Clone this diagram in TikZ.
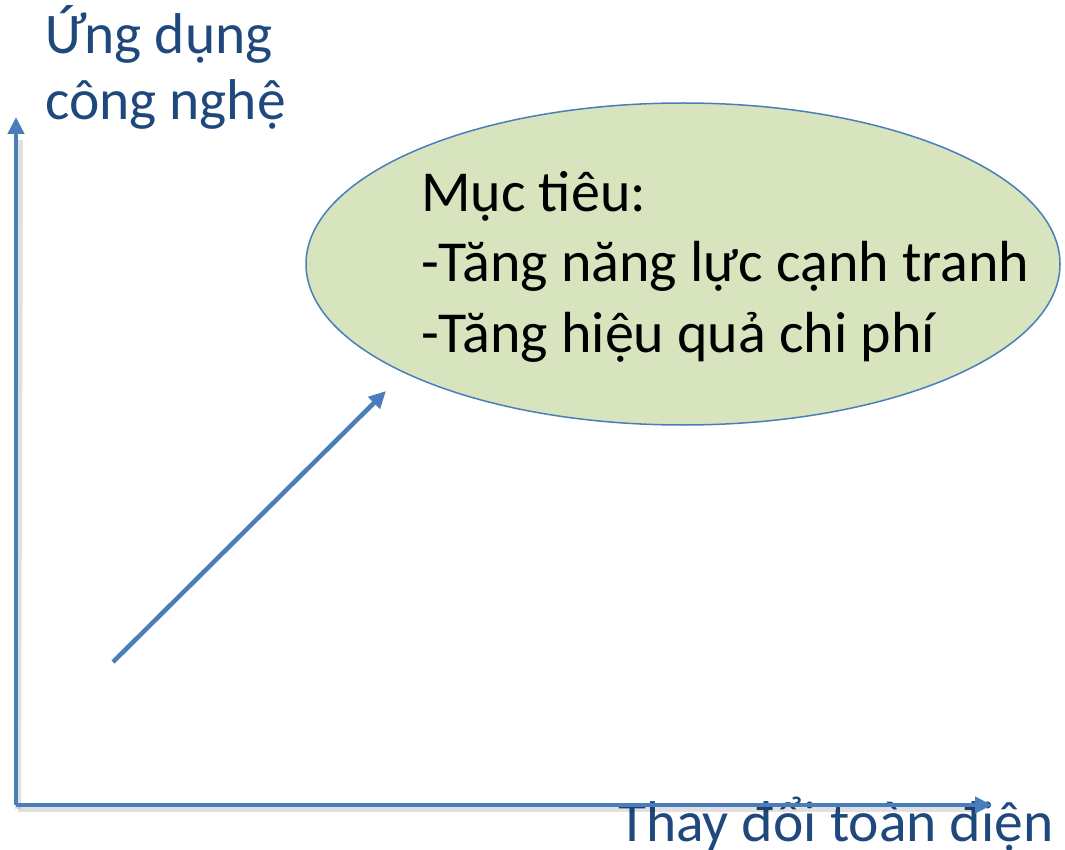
\documentclass[tikz,border=0pt]{standalone}
\usepackage{fontspec}
\setmainfont{Carlito}
\usetikzlibrary{arrows.meta,shapes.geometric}
\definecolor{axisblue}{HTML}{4A7EBB}
\definecolor{labelblue}{HTML}{1F497D}
\definecolor{goalfill}{HTML}{D7E4BD}
\tikzset{
  axisline/.style={draw=axisblue, line width=4.5pt, -{Triangle[length=17pt,width=16pt]}},
  shadowline/.style={draw=black, opacity=0.12, line width=6pt},
  axislabel/.style={inner sep=0pt, anchor=base west, text=labelblue, font=\fontsize{57.5}{68}\selectfont},
  goaltext/.style={inner sep=0pt, anchor=base west, text=black, font=\fontsize{58}{70}\selectfont},
}
\begin{document}
\begin{tikzpicture}[x=1pt,y=-1pt]
\useasboundingbox (0,0) rectangle (1065,850);
\coordinate (origin) at (16,805);
\coordinate (ytop) at (16,117);
\coordinate (xend) at (992,805);
\coordinate (dstart) at (113,662);
\coordinate (dend) at (386,391);
\coordinate (origin s) at (18,809);
\coordinate (xend s) at (978,809);
\coordinate (ytop s) at (20,140);
\node[ellipse, draw=axisblue, line width=1.5pt, fill=goalfill, minimum width=754pt, minimum height=322pt, inner sep=0pt] (goal) at (683,264) {};
\node[goaltext] (g1) at (421,212) {Mục tiêu:};
\node[goaltext] (g2) at (421,282) {-Tăng năng lực cạnh tranh};
\node[goaltext] (g3) at (421,352) {-Tăng hiệu quả chi phí};
\node[axislabel] (ylab1) at (45,54) {Ứng dụng};
\node[axislabel] (ylab2) at (45,120) {công nghệ};
\node[axislabel] (xlab) at (618,841) {Thay đổi toàn điện};
\draw[shadowline] (origin s) -- (xend s);
\draw[shadowline] (origin s) -- (ytop s);
\draw[axisline] (origin) -- (ytop);
\draw[axisline] (origin) -- (xend);
\draw[axisline] (dstart) -- (dend);
\end{tikzpicture}
\end{document}
